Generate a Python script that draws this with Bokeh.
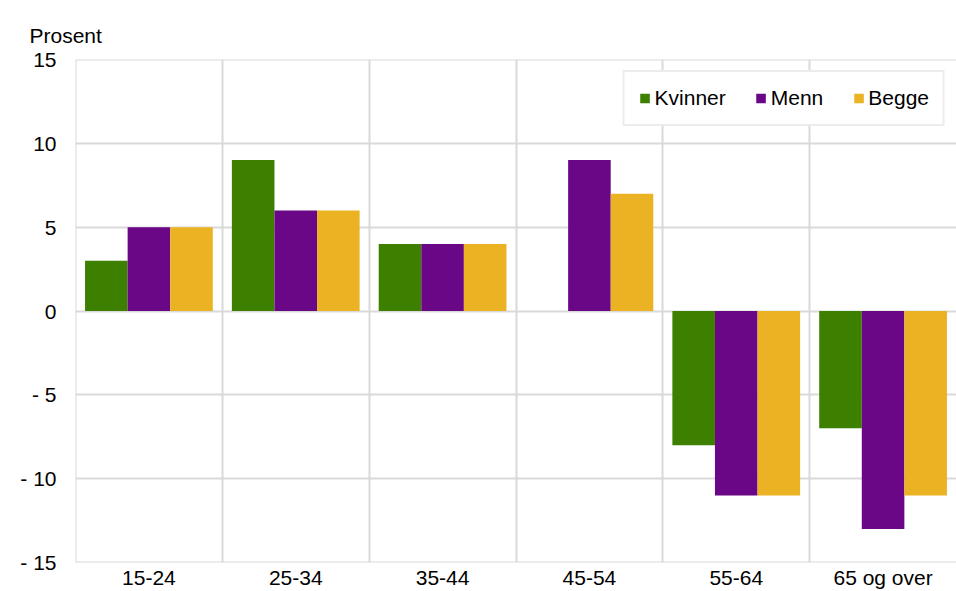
from bokeh.plotting import figure
from bokeh.models import (ColumnDataSource, FactorRange, Range1d, FixedTicker, CustomJSTickFormatter,
                          Legend, LegendItem, Span)
from bokeh.transform import dodge
from bokeh.embed import file_html
from bokeh.resources import INLINE

categories = ["15-24", "25-34", "35-44", "45-54", "55-64", "65 og over"]
kvinner = [3, 9, 4, 0, -8, -7]
menn = [5, 6, 4, 9, -11, -13]
begge = [5, 6, 4, 7, -11, -11]
series_names = ["Kvinner", "Menn", "Begge"]
y_ticks = [-15, -10, -5, 0, 5, 10, 15]

colors = ["#3d8000", "#6a0787", "#ebb323"]
GRID = "#d9d9d9"
FONT = "Liberation Sans"
FS = "21px"

source = ColumnDataSource(dict(cat=categories, Kvinner=kvinner, Menn=menn, Begge=begge))

p = figure(x_range=FactorRange(*categories, range_padding=0), y_range=Range1d(-15, 15),
           width=956, height=591, output_backend="svg", toolbar_location=None,
           min_border_left=75, min_border_right=0, min_border_top=59, min_border_bottom=25)

bw = 0.29
offsets = [-bw, 0, bw]
renderers = []
for name, col, off in zip(series_names, colors, offsets):
    r = p.vbar(x=dodge("cat", off, range=p.x_range), top=name, bottom=0, width=bw,
               source=source, fill_color=col, line_color=None)
    renderers.append(r)

p.outline_line_color = None
p.background_fill_color = "white"

p.title.text = "Prosent"
p.title.align = "left"
p.title.offset = -46
p.title.standoff = 26
p.title.text_font = FONT
p.title.text_font_size = FS
p.title.text_font_style = "normal"
p.title.text_color = "#000000"

# y axis
p.yaxis.ticker = FixedTicker(ticks=y_ticks)
p.yaxis.formatter = CustomJSTickFormatter(code="return tick < 0 ? '- ' + Math.abs(tick) : String(tick);")
p.yaxis.axis_line_color = None
p.yaxis.major_tick_line_color = None
p.yaxis.minor_tick_line_color = None
p.yaxis.major_tick_out = 0
p.yaxis.major_tick_in = 0
p.yaxis.minor_tick_out = 0
p.yaxis.major_label_text_font = FONT
p.yaxis.major_label_text_font_size = FS
p.yaxis.major_label_text_color = "#000000"
p.yaxis.major_label_standoff = 19

p.xaxis.axis_line_color = None
p.xaxis.major_tick_line_color = None
p.xaxis.major_tick_out = 0
p.xaxis.major_tick_in = 0
p.xaxis.major_label_text_font = FONT
p.xaxis.major_label_text_font_size = FS
p.xaxis.major_label_text_color = "#000000"
p.xaxis.major_label_standoff = 3

p.ygrid.ticker = FixedTicker(ticks=y_ticks)
p.ygrid.grid_line_color = GRID
p.ygrid.grid_line_width = 2
p.xgrid.ticker = FixedTicker(ticks=[0, 1, 2, 3, 4, 5])
p.xgrid.grid_line_color = GRID
p.xgrid.grid_line_width = 2

# frame edges (left, top, bottom)
p.add_layout(Span(location=0, dimension="height", line_color=GRID, line_width=2, level="underlay"))
p.add_layout(Span(location=-15, dimension="width", line_color=GRID, line_width=2, level="underlay"))
p.add_layout(Span(location=15, dimension="width", line_color=GRID, line_width=2, level="underlay"))

legend = Legend(items=[LegendItem(label=n, renderers=[r]) for n, r in zip(series_names, renderers)],
                orientation="horizontal", location="top_right")
legend.label_text_font = FONT
legend.label_text_font_size = FS
legend.label_text_color = "#000000"
legend.glyph_width = 12
legend.glyph_height = 12
legend.label_standoff = 4
legend.spacing = 29
legend.padding = 14
legend.margin = 11
legend.border_line_color = GRID
legend.border_line_width = 2
legend.background_fill_alpha = 1
p.add_layout(legend, "center")

open("out.html", "w").write(file_html(p, INLINE))
